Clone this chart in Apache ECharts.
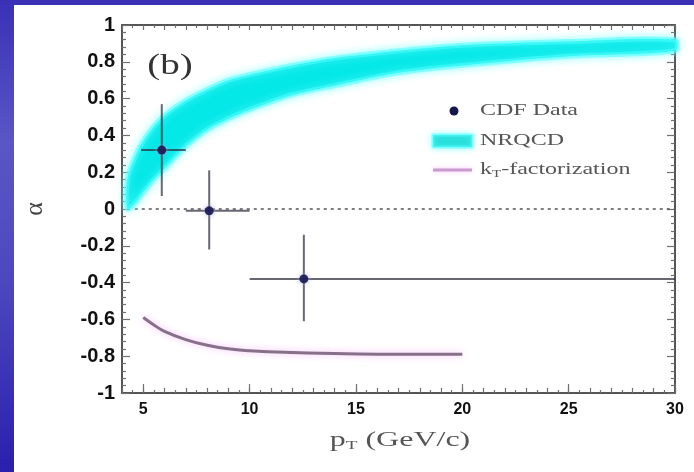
<!DOCTYPE html>
<html>
<head>
<meta charset="utf-8">
<script src="https://cdn.jsdelivr.net/npm/echarts@6/dist/echarts.min.js"></script>
<style>
  html, body { margin: 0; padding: 0; }
  body {
    width: 694px; height: 472px; overflow: hidden; position: relative;
    background: linear-gradient(180deg, #3a30b6 0%, #5a56c6 30%, #4d47be 60%, #2a1fae 100%);
  }
  #main { position: absolute; left: 14px; top: 5px; width: 680px; height: 467px; background: #fff; }
</style>
</head>
<body>
<div id="main"></div>
<script>
// CDF data (alpha vs pT)
const cdfX = [5.87, 8.1, 12.55];
const cdfY = [0.32, -0.01, -0.38];
const cdfXLow = [4.9, 7, 10];
const cdfXHigh = [7, 10, 30];
const cdfYLow = [0.07, -0.22, -0.61];
const cdfYHigh = [0.57, 0.21, -0.14];

// NRQCD band
const bandX = [4.25, 4.6, 5, 5.5, 6, 7, 8, 9, 10, 12, 14, 17, 20, 25, 30];
const bandUpper = [0.16, 0.28, 0.37, 0.45, 0.51, 0.59, 0.65, 0.70, 0.73, 0.78, 0.82, 0.86, 0.89, 0.91, 0.92];
const bandLower = [0.0, 0.03, 0.09, 0.16, 0.22, 0.34, 0.43, 0.49, 0.54, 0.62, 0.67, 0.74, 0.78, 0.83, 0.86];

// kT-factorization curve
const ktX = [5, 5.5, 6, 7, 8, 9, 10, 12, 14, 17, 20];
const ktY = [-0.59, -0.63, -0.665, -0.71, -0.74, -0.76, -0.77, -0.78, -0.785, -0.79, -0.79];

const xLabels = [5, 10, 15, 20, 25, 30];
const zeroLine = [[4.6, 0], [30, 0]];

const chart = echarts.init(document.getElementById('main'), null, {renderer: 'canvas'});

const axisLine = {show: true, onZero: false, lineStyle: {color: '#555', width: 2}};
const tickStyle = {color: '#707070', width: 1.2};

const cdfData = cdfX.map((x, i) => [x, cdfY[i], cdfXLow[i], cdfXHigh[i], cdfYLow[i], cdfYHigh[i]]);
const bandData = bandX.map((x, i) => [x, bandLower[i], bandUpper[i]]);

chart.setOption({
  animation: false,
  grid: {left: 105, top: 20, right: 19, bottom: 79},
  xAxis: [
    {
      type: 'value', position: 'bottom', min: 4, max: 30, interval: 1,
      axisLine: axisLine,
      axisTick: {inside: true, length: 5, lineStyle: tickStyle},
      minorTick: {show: true, splitNumber: 2, length: 3, lineStyle: tickStyle},
      splitLine: {show: false},
      axisLabel: {
        customValues: xLabels, margin: 9, color: '#111',
        fontSize: 16, fontWeight: 'bold', fontFamily: 'Liberation Sans'
      }
    },
    {
      type: 'value', position: 'bottom', min: 4, max: 30,
      axisLine: {show: false, onZero: false},
      axisTick: {show: true, inside: true, length: 9, customValues: xLabels, lineStyle: tickStyle},
      axisLabel: {show: false},
      splitLine: {show: false}
    },
    {
      type: 'value', position: 'top', min: 4, max: 30, interval: 1,
      axisLine: axisLine,
      axisTick: {inside: true, length: 5, lineStyle: tickStyle},
      minorTick: {show: true, splitNumber: 2, length: 3, lineStyle: tickStyle},
      axisLabel: {show: false},
      splitLine: {show: false}
    }
  ],
  yAxis: [
    {
      type: 'value', position: 'left', min: -1, max: 1, interval: 0.2,
      name: 'α', nameLocation: 'middle', nameRotate: 90, nameGap: 74,
      nameTextStyle: {fontFamily: 'Liberation Serif', fontSize: 26, color: '#444'},
      axisLine: axisLine,
      axisTick: {inside: true, length: 8, lineStyle: tickStyle},
      minorTick: {show: true, splitNumber: 5, length: 4, lineStyle: tickStyle},
      splitLine: {show: false},
      axisLabel: {margin: 7, color: '#111', fontSize: 20, fontWeight: 'bold', fontFamily: 'Liberation Sans'}
    },
    {
      type: 'value', position: 'right', min: -1, max: 1, interval: 0.2,
      axisLine: axisLine,
      axisTick: {inside: true, length: 8, lineStyle: tickStyle},
      minorTick: {show: true, splitNumber: 5, length: 4, lineStyle: tickStyle},
      splitLine: {show: false},
      axisLabel: {show: false}
    }
  ],
  series: [
    {
      name: 'zero', type: 'line', data: zeroLine, symbol: 'none',
      lineStyle: {color: '#555', width: 1.5, type: [3, 4]}, z: 1
    },
    {
      name: 'NRQCD', type: 'custom', data: [0], z: 2,
      renderItem: function (params, api) {
        const pts = [];
        bandData.forEach(d => pts.push(api.coord([d[0], d[2]])));
        bandData.slice().reverse().forEach(d => pts.push(api.coord([d[0], d[1]])));
        return {
          type: 'polygon',
          shape: {points: pts, smooth: 0.3},
          style: {
            fill: '#05e8e8', stroke: 'rgba(80,255,255,0.55)', lineWidth: 5,
            shadowBlur: 8, shadowColor: 'rgba(120,255,255,0.9)'
          }
        };
      }
    },
    {
      name: 'kT', type: 'line', data: ktX.map((x, i) => [x, ktY[i]]), symbol: 'none', smooth: true, z: 2,
      lineStyle: {color: '#87708a', width: 3, shadowBlur: 7, shadowColor: '#f6b6f6'}
    },
    {
      name: 'CDF Data', type: 'custom', data: cdfData, z: 3,
      renderItem: function (params, api) {
        const c = api.coord([api.value(0), api.value(1)]);
        const l = api.coord([api.value(2), api.value(1)]);
        const r = api.coord([api.value(3), api.value(1)]);
        const b = api.coord([api.value(0), api.value(4)]);
        const t = api.coord([api.value(0), api.value(5)]);
        const ls = {stroke: 'rgba(45,45,60,0.72)', lineWidth: 2};
        return {
          type: 'group',
          children: [
            {type: 'line', shape: {x1: l[0], y1: l[1], x2: r[0], y2: r[1]}, style: ls},
            {type: 'line', shape: {x1: t[0], y1: t[1], x2: b[0], y2: b[1]}, style: ls},
            {type: 'circle', shape: {cx: c[0], cy: c[1], r: 4.5},
              style: {fill: 'rgba(22,22,80,0.9)', shadowBlur: 5, shadowColor: '#a8a8e0'}}
          ]
        };
      }
    }
  ],
  graphic: [
    {
      type: 'text', x: 156, y: 61, scaleX: 1.3,
      style: {text: '(b)', font: '30px "Liberation Serif"', fill: '#333', textAlign: 'center', textVerticalAlign: 'middle'}
    },
    {
      type: 'text', x: 386, y: 436, scaleX: 1.6,
      style: {
        text: '{p|p}{s|T}{p| (GeV/c)}', textAlign: 'center', textVerticalAlign: 'middle',
        rich: {
          p: {fontFamily: 'Liberation Serif', fontSize: 20, fill: '#555'},
          s: {fontFamily: 'Liberation Serif', fontSize: 12, fill: '#555', padding: [10, 0, 0, 0]}
        }
      }
    },
    // legend
    {type: 'circle', shape: {cx: 440, cy: 106, r: 4.5}, style: {fill: '#16164f'}},
    {
      type: 'rect', shape: {x: 419, y: 130, width: 39, height: 12},
      style: {fill: '#22dcd8', stroke: 'rgba(80,255,255,0.6)', lineWidth: 3, shadowBlur: 6, shadowColor: 'rgba(120,255,255,0.9)'}
    },
    {
      type: 'line', shape: {x1: 419, y1: 165, x2: 458, y2: 165},
      style: {stroke: '#c89ccc', lineWidth: 3, shadowBlur: 5, shadowColor: '#f6c0f6'}
    },
    {
      type: 'text', x: 466, y: 106, scaleX: 1.5,
      style: {text: 'CDF Data', font: '16px "Liberation Serif"', fill: '#555', textVerticalAlign: 'middle'}
    },
    {
      type: 'text', x: 466, y: 136, scaleX: 1.5,
      style: {text: 'NRQCD', font: '16px "Liberation Serif"', fill: '#555', textVerticalAlign: 'middle'}
    },
    {
      type: 'text', x: 466, y: 165, scaleX: 1.5,
      style: {
        text: '{k|k}{s|T}{k|-factorization}', textVerticalAlign: 'middle',
        rich: {
          k: {fontFamily: 'Liberation Serif', fontSize: 16, fill: '#555'},
          s: {fontFamily: 'Liberation Serif', fontSize: 10, fill: '#555', padding: [8, 0, 0, 0]}
        }
      }
    }
  ]
});
</script>
</body>
</html>
